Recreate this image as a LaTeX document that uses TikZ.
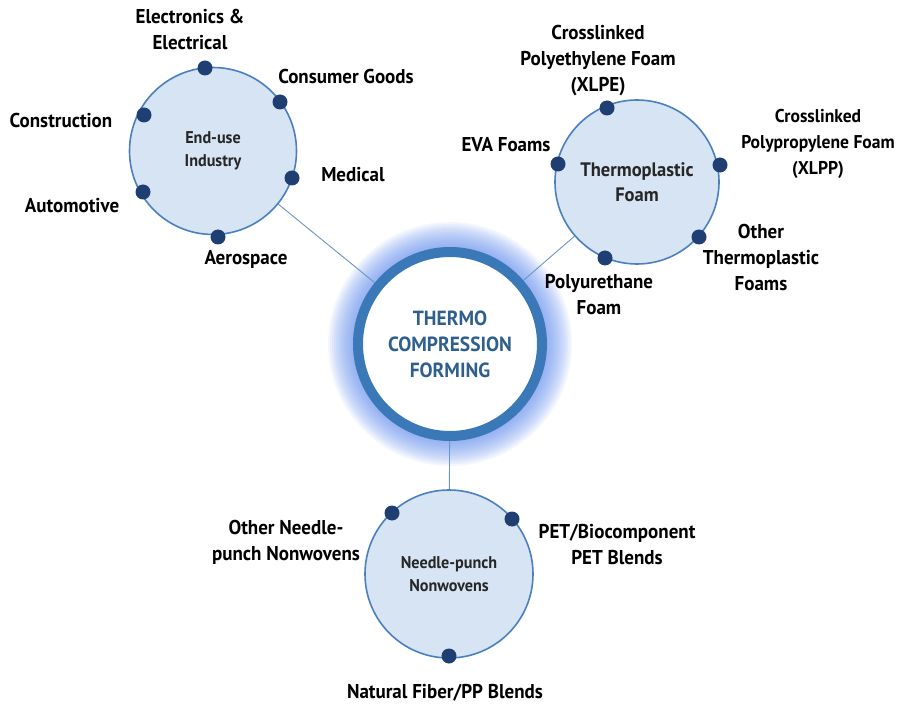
\documentclass[tikz,border=0pt]{standalone}
\usepackage{fontspec}
\setmainfont{PT Sans}[FakeStretch=0.95]
\usetikzlibrary{calc}
\definecolor{ringblue}{HTML}{3A78B8}
\definecolor{edgeblue}{HTML}{4A80C0}
\definecolor{fillblue}{HTML}{D6E4F3}
\definecolor{dotblue}{HTML}{1F3F73}
\definecolor{textblue}{HTML}{2F5F8F}
\definecolor{glowblue}{HTML}{5A8AF0}
\definecolor{lineblue}{HTML}{6A95C6}
\tikzset{
  cat/.style={circle, draw=edgeblue, line width=1.6pt, fill=fillblue, minimum size=#1, inner sep=0pt, align=center},
  dot/.style={circle, fill=dotblue, minimum size=15pt, inner sep=0pt},
  lbl/.style={align=center, font=\fontsize{20}{26}\selectfont\bfseries, text=black, inner sep=0pt},
  inlbl/.style={align=center, font=\fontsize{17}{23}\selectfont\bfseries, text=black!85},
  conn/.style={draw=lineblue, line width=0.9pt}
}
\begin{document}
\begin{tikzpicture}[x=1pt,y=-1pt]
\useasboundingbox (0,0) rectangle (900,711);
\fill[white] (0,0) rectangle (900,711);
% glow
\foreach \r in {122,120,...,98}{
  \fill[glowblue, opacity=0.07] (450,344) circle (\r);
}
% connectors (behind)
\coordinate (cc) at (450,344);
\coordinate (lc) at (213,151);
\coordinate (rc) at (637,182);
\coordinate (bc) at (449,574);
\draw[conn] (lc) -- (cc);
\draw[conn] (rc) -- (cc);
\draw[conn] (bc) -- (cc);
% center circle
\node[circle, fill=white, draw=ringblue, line width=10pt, minimum size=184pt, inner sep=0pt,
      align=center, font=\fontsize{20.5}{26}\selectfont\bfseries, text=textblue] (center) at (cc)
      {THERMO\\COMPRESSION\\FORMING};
% category circles
\node[cat=167pt, inlbl] (left) at (lc) {End-use\\Industry};
\node[cat=164pt, font=\fontsize{19.5}{25}\selectfont\bfseries, text=black!85] (right) at (rc) {Thermoplastic\\Foam};
\node[cat=168pt, inlbl] (bottom) at (bc) {Needle-punch\\Nonwovens};
% dots left
\node[dot] (d1) at (205,68) {};
\node[dot] (d2) at (280,102) {};
\node[dot] (d3) at (144,115) {};
\node[dot] (d4) at (292,178) {};
\node[dot] (d5) at (143,192) {};
\node[dot] (d6) at (218,237) {};
% dots right
\node[dot] (r1) at (607,108) {};
\node[dot] (r2) at (558,164) {};
\node[dot] (r3) at (720,165) {};
\node[dot] (r4) at (699,237) {};
\node[dot] (r5) at (605,258) {};
% dots bottom
\node[dot] (b1) at (392,513) {};
\node[dot] (b2) at (512,519) {};
\node[dot] (b3) at (449,656) {};
% labels left
\node[lbl] (t1) at (190,30) {Electronics \&\\Electrical};
\node[lbl] (t2) at (346,77) {Consumer Goods};
\node[lbl] (t3) at (61,121) {Construction};
\node[lbl] (t4) at (353,175) {Medical};
\node[lbl] (t5) at (72,206) {Automotive};
\node[lbl] (t6) at (246,259) {Aerospace};
% labels right
\node[lbl] (u1) at (598,61) {Crosslinked\\Polyethylene Foam\\(XLPE)};
\node[lbl] (u2) at (506,145) {EVA Foams};
\node[lbl, font=\fontsize{18.5}{26}\selectfont\bfseries] (u3) at (818,144) {Crosslinked\\Polypropylene Foam\\(XLPP)};
\node[lbl] (u4) at (761,258) {Other\\Thermoplastic\\Foams};
\node[lbl] (u5) at (599,295) {Polyurethane\\Foam};
% labels bottom
\node[lbl] (v1) at (286,542) {Other Needle-\\punch Nonwovens};
\node[lbl] (v2) at (617,545) {PET/Biocomponent\\PET Blends};
\node[lbl] (v3) at (445,693) {Natural Fiber/PP Blends};
\end{tikzpicture}
\end{document}
